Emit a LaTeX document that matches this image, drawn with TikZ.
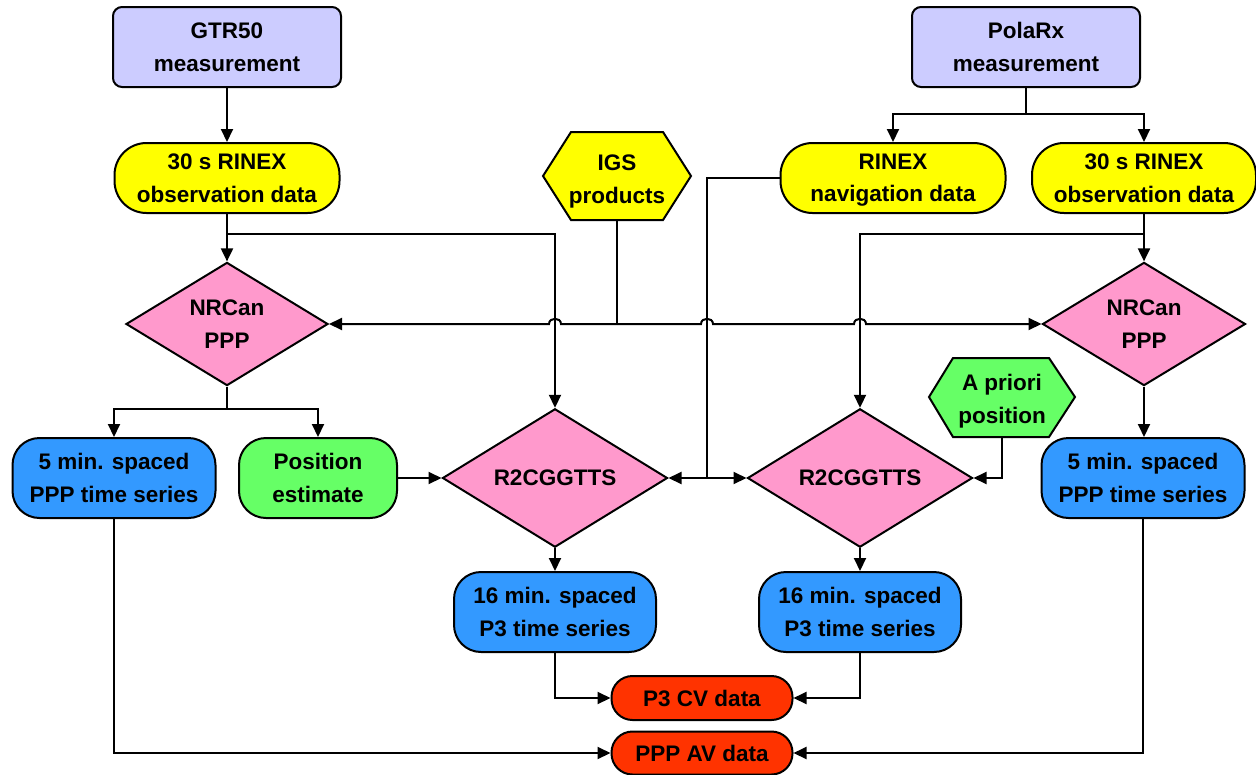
\documentclass[tikz,border=0pt]{standalone}
\usepackage{fontspec}
\setmainfont{Liberation Sans}
\usetikzlibrary{shapes.geometric,arrows.meta}
\definecolor{lav}{HTML}{CCCCFF}
\definecolor{yel}{HTML}{FFFF00}
\definecolor{pnk}{HTML}{FF99CC}
\definecolor{blu}{HTML}{3399FF}
\definecolor{grn}{HTML}{66FF66}
\definecolor{rdd}{HTML}{FF3300}
\begin{document}
\begin{tikzpicture}[x=1pt,y=-1pt,
  every node/.style={font=\bfseries\fontsize{22.5}{32.5}\selectfont, align=center, inner sep=0pt},
  two/.style={text depth=0pt},
  base/.style={draw=black, line width=2pt},
  meas/.style={base, two, fill=lav, rounded corners=9pt, minimum width=228pt, minimum height=80pt},
  obs/.style={base, two, fill=yel, rounded corners=32pt, minimum width=225pt, minimum height=70pt},
  dia/.style={base, fill=pnk, diamond},
  ts/.style={base, two, fill=blu, rounded corners=27pt, minimum width=203pt, minimum height=80pt},
  est/.style={base, two, fill=grn, rounded corners=27pt, minimum width=158pt, minimum height=80pt},
  outp/.style={base, fill=rdd, rounded corners=21pt, minimum width=181pt, minimum height=44pt},
  hexfill/.style={base},
  wire/.style={line width=2pt},
  conn/.style={wire, -{Triangle[length=13pt,width=12pt]}},
]
\useasboundingbox (0,0) rectangle (1256,774);

% hexagon outlines
\draw[hexfill, fill=yel] (543,176) -- (571,132) -- (663,132) -- (691,176) -- (663,220) -- (571,220) -- cycle;
\draw[hexfill, fill=grn] (929,397) -- (953,358) -- (1049,358) -- (1075,397) -- (1049,437) -- (953,437) -- cycle;

% nodes
\node[meas] (gtr) at (227,47) {GTR50\\measurement};
\node[meas] (polarx) at (1026,47) {PolaRx\\measurement};
\node[obs] (obsL) at (227,178) {30 s RINEX\\observation data};
\node[obs] (nav) at (893,178) {RINEX\\navigation data};
\node[obs, minimum width=224pt] (obsR) at (1144,178) {30 s RINEX\\observation data};
\node[two, minimum width=148pt, minimum height=82pt] (igs) at (617,179) {IGS\\products};
\node[dia, two, minimum width=202pt, minimum height=112pt] (nrL) at (227,324) {NRCan\\PPP};
\node[dia, two, minimum width=203pt, minimum height=112pt] (nrR) at (1144,324) {NRCan\\PPP};
\node[two, minimum width=146pt, minimum height=76pt] (apr) at (1002,399) {A priori\\position};
\node[ts] (pppL) at (114,478) {5 min. spaced\\PPP time series};
\node[est] (pos) at (318,478) {Position\\estimate};
\node[dia, minimum width=225pt, minimum height=122pt] (r2L) at (555,478) {R2CGGTTS};
\node[dia, minimum width=225pt, minimum height=122pt] (r2R) at (860,478) {R2CGGTTS};
\node[ts] (pppR) at (1143,478) {5 min. spaced\\PPP time series};
\node[ts, minimum width=202pt] (p3L) at (555,612) {16 min. spaced\\P3 time series};
\node[ts, minimum width=202pt] (p3R) at (860,612) {16 min. spaced\\P3 time series};
\node[outp] (cv) at (702,698) {P3 CV data};
\node[outp, minimum height=43pt] (av) at (702,753) {PPP AV data};

% junction coordinates
\coordinate (pj) at (1026,114);
\coordinate (lj) at (227,234);
\coordinate (rj) at (1144,234);
\coordinate (ij) at (617,324);
\coordinate (nj) at (707,478);
\coordinate (nlj) at (227,409);

% connectors
\draw[conn] (gtr.south) -- (obsL.north);
\draw[wire] (polarx.south) -- (pj);
\draw[conn] (pj) -| (nav.north);
\draw[conn] (pj) -| (obsR.north);

\draw[conn] (obsL.south) -- (nrL.north);
\draw[conn] (lj) -| (r2L.north);
\draw[conn] (obsR.south) -- (nrR.north);
\draw[conn] (rj) -| (r2R.north);

\draw[wire] (igs.south) -- (ij);
\draw[conn] (ij) -- (561,324) .. controls (561,317) and (549,317) .. (549,324) -- (nrL.east);
\draw[conn] (ij) -- (701,324) .. controls (701,317) and (713,317) .. (713,324)
  -- (854,324) .. controls (854,317) and (866,317) .. (866,324) -- (nrR.west);

\draw[wire] (nav.west) -| (nj);
\draw[conn] (nj) -- (r2L.east);
\draw[conn] (nj) -- (r2R.west);

\draw[wire] (nrL.south) -- (nlj);
\draw[conn] (nlj) -| (pppL.north);
\draw[conn] (nlj) -| (pos.north);
\draw[conn] (pos.east) -- (r2L.west);
\draw[conn] (apr.south) |- (r2R.east);
\draw[conn] (nrR.south) -- (nrR.south |- pppR.north);

\draw[conn] (r2L.south) -- (p3L.north);
\draw[conn] (r2R.south) -- (p3R.north);
\draw[conn] (p3L.south) |- (cv.west);
\draw[conn] (p3R.south) |- (cv.east);
\draw[conn] (pppL.south) |- (av.west);
\draw[conn] (pppR.south) |- (av.east);
\end{tikzpicture}
\end{document}
